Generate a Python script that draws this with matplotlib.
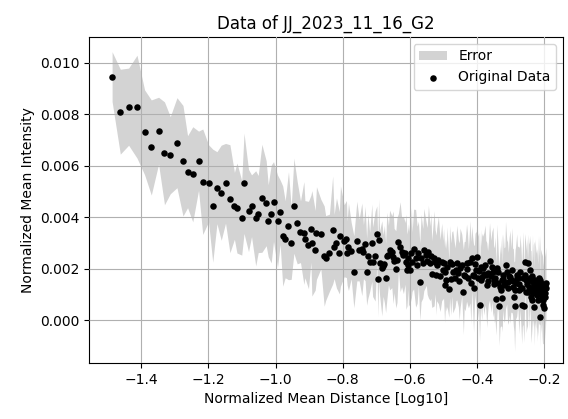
import matplotlib
matplotlib.use("Agg")
import matplotlib.pyplot as plt
import numpy as np

# log10 of normalized mean distance
distance_log10 = [
    -1.487, -1.4625, -1.4378, -1.4128, -1.3902, -1.3702, -1.3485, -1.3309, -1.3136, -1.2937,
    -1.2758, -1.2621, -1.2466, -1.2294, -1.2169, -1.1996, -1.1871, -1.1746, -1.1618, -1.1490,
    -1.1359, -1.1225, -1.1150, -1.1007, -1.0939, -1.0805, -1.0715, -1.0590, -1.0516, -1.0406,
    -1.0278, -1.0218, -1.0129, -1.0060, -0.9941, -0.9861, -0.9786, -0.9712, -0.9614, -0.9533,
    -0.9453, -0.9354, -0.9256, -0.9155, -0.9125, -0.9018, -0.8946, -0.8917, -0.8818, -0.8780,
    -0.8649, -0.8550, -0.8506, -0.8393, -0.8297, -0.8253, -0.8184, -0.8098, -0.8065, -0.7955,
    -0.7886, -0.7866, -0.7827, -0.7746, -0.7666, -0.7577, -0.7508, -0.7428, -0.7380, -0.7330,
    -0.7285, -0.7249, -0.7195, -0.7130, -0.7106, -0.7032, -0.6981, -0.6952, -0.6928, -0.6898,
    -0.6832, -0.6794, -0.6755, -0.6719, -0.6683, -0.6636, -0.6600, -0.6534, -0.6496, -0.6466,
    -0.6415, -0.6380, -0.6338, -0.6287, -0.6243, -0.6189, -0.6138, -0.6114, -0.6081, -0.6040,
    -0.5990, -0.5951, -0.5930, -0.5885, -0.5825, -0.5742, -0.5700, -0.5662, -0.5611, -0.5581,
    -0.5504, -0.5444, -0.5394, -0.5370, -0.5343, -0.5274, -0.5245, -0.5206, -0.5147, -0.5096,
    -0.5046, -0.5016, -0.4992, -0.4962, -0.4912, -0.4888, -0.4834, -0.4813, -0.4748, -0.4718,
    -0.4650, -0.4599, -0.4552, -0.4501, -0.4450, -0.4402, -0.4351, -0.4307, -0.4253, -0.4203,
    -0.4152, -0.4122, -0.4098, -0.4054, -0.4018, -0.3994, -0.3970, -0.3920, -0.3890, -0.3854,
    -0.3830, -0.3756, -0.3732, -0.3705, -0.3657, -0.3622, -0.3556, -0.3518, -0.3500, -0.3458,
    -0.3432, -0.3399, -0.3360, -0.3334, -0.3294, -0.3259, -0.3241, -0.3211, -0.3190, -0.3146,
    -0.3110, -0.3086, -0.3062, -0.3012, -0.2988, -0.2952, -0.2913, -0.2893, -0.2875, -0.2848,
    -0.2812, -0.2774, -0.2750, -0.2714, -0.2684, -0.2663, -0.2624, -0.2595, -0.2565, -0.2544,
    -0.2514, -0.2490, -0.2467, -0.2446, -0.2416, -0.2386, -0.2366, -0.2342, -0.2318, -0.2297,
    -0.2288, -0.2247, -0.2217, -0.2187, -0.2163, -0.2142, -0.2118, -0.2109, -0.2088, -0.2067,
    -0.2043, -0.2020, -0.1999, -0.1981, -0.1963, -0.1949,
    -0.6050, -0.5780, -0.5480, -0.5200, -0.4935, -0.4775, -0.4625, -0.4525, -0.4378, -0.4280,
    -0.4180, -0.4075, -0.3945, -0.3870, -0.3790, -0.3680, -0.3580, -0.3478, -0.3380, -0.3310,
    -0.3230, -0.3165, -0.3040, -0.2935, -0.2860, -0.2790, -0.2730, -0.2645, -0.2580, -0.2530,
    -0.2478, -0.2430, -0.2400, -0.2330, -0.2270, -0.2232, -0.2200, -0.2150, -0.2100, -0.2055,
    -0.2010, -0.1972, -0.1940,
]

# normalized mean intensity at each distance
intensity = [
    0.009467, 0.008105, 0.008300, 0.008300, 0.007303, 0.006712, 0.007366, 0.006486, 0.006412, 0.006899,
    0.006198, 0.005770, 0.005669, 0.006198, 0.005381, 0.005319, 0.004447, 0.005148, 0.004953, 0.005319,
    0.004720, 0.004443, 0.004358, 0.003977, 0.005319, 0.004261, 0.004447, 0.003957, 0.004124, 0.004735,
    0.004541, 0.003864, 0.004124, 0.004611, 0.003844, 0.004194, 0.003268, 0.003144, 0.003669, 0.002984,
    0.004447, 0.003786, 0.003436, 0.003385, 0.003144, 0.002918, 0.003552, 0.002984, 0.002712, 0.003385,
    0.003346, 0.002490, 0.002412, 0.002619, 0.003502, 0.002860, 0.002996, 0.002619, 0.003268, 0.003086,
    0.003152, 0.002607, 0.002852, 0.002704, 0.001879, 0.003074, 0.002724, 0.002751, 0.002658, 0.002977,
    0.001879, 0.002490, 0.002257, 0.003008, 0.002268, 0.002490, 0.003338, 0.001584, 0.003113, 0.002206,
    0.002012, 0.002121, 0.002179, 0.001642, 0.002490, 0.002529, 0.002724, 0.002658, 0.002440, 0.002315,
    0.001973, 0.002335, 0.003047, 0.002852, 0.002646, 0.002529, 0.002595, 0.002268, 0.001946, 0.002140,
    0.001946, 0.002626, 0.002268, 0.002763, 0.002401, 0.002595, 0.001490, 0.002412, 0.002206, 0.002743,
    0.002549, 0.002665, 0.002206, 0.002490, 0.001790, 0.002401, 0.002268, 0.001751, 0.002335, 0.001731,
    0.002268, 0.001946, 0.002206, 0.001362, 0.001556, 0.002074, 0.001206, 0.002268, 0.002179, 0.001879,
    0.001654, 0.002237, 0.001817, 0.002023, 0.002140, 0.001089, 0.001712, 0.002230, 0.001623, 0.002268,
    0.002401, 0.001751, 0.001233, 0.002179, 0.001946, 0.002463, 0.001654, 0.000584, 0.002074, 0.001685,
    0.002012, 0.002140, 0.001751, 0.001362, 0.001817, 0.002284, 0.002074, 0.001868, 0.001556, 0.001623,
    0.000817, 0.002023, 0.001428, 0.000564, 0.001167, 0.001556, 0.000844, 0.001751, 0.001362, 0.002140,
    0.001879, 0.001490, 0.001233, 0.001685, 0.001556, 0.001946, 0.001272, 0.000907, 0.000545, 0.001428,
    0.001751, 0.001623, 0.001167, 0.001868, 0.001233, 0.000584, 0.001634, 0.000545, 0.002268, 0.001556,
    0.001420, 0.001089, 0.002230, 0.001296, 0.001946, 0.000907, 0.000778, 0.001712, 0.001490, 0.001362,
    0.000517, 0.001233, 0.000973, 0.000778, 0.001634, 0.001167, 0.001556, 0.000128, 0.001101, 0.001233,
    0.000778, 0.000584, 0.000455, 0.001362, 0.000907, 0.001428,
    0.002400, 0.002150, 0.002300, 0.002150, 0.001850, 0.001600, 0.001950, 0.001500, 0.001750, 0.002000,
    0.001450, 0.001700, 0.001900, 0.001550, 0.001800, 0.001500, 0.001700, 0.001400, 0.001850, 0.001300,
    0.001600, 0.001450, 0.001700, 0.001500, 0.001150, 0.001650, 0.001400, 0.001250, 0.001750, 0.001100,
    0.001500, 0.001650, 0.001200, 0.001050, 0.001550, 0.001400, 0.001150, 0.001300, 0.001450, 0.000950,
    0.001200, 0.001050, 0.001250,
]

# half-width of the error band at each point
error = [
    0.00097, 0.00165, 0.00150, 0.00200, 0.00165, 0.00185, 0.00130, 0.00200, 0.00150, 0.00175, 0.00215, 0.00140,
    0.00185, 0.00115, 0.00205, 0.00150, 0.00220, 0.00140, 0.00185, 0.00155, 0.00210, 0.00130, 0.00175, 0.00145,
    0.00195, 0.00160, 0.00120, 0.00185, 0.00150, 0.00210, 0.00165, 0.00140, 0.00190, 0.00155, 0.00180, 0.00125,
    0.00195, 0.00150, 0.00210, 0.00140, 0.00185, 0.00160, 0.00120, 0.00200, 0.00150, 0.00170, 0.00130, 0.00205,
    0.00155, 0.00180, 0.00135, 0.00195, 0.00165, 0.00150, 0.00210, 0.00125, 0.00175, 0.00160, 0.00195, 0.00140,
    0.00150, 0.00125, 0.00170, 0.00110, 0.00140, 0.00155, 0.00120, 0.00180, 0.00105, 0.00145, 0.00130, 0.00165,
    0.00115, 0.00150, 0.00135, 0.00175, 0.00110, 0.00145, 0.00160, 0.00125, 0.00185, 0.00120, 0.00150, 0.00135,
    0.00170, 0.00115, 0.00155, 0.00140, 0.00180, 0.00125, 0.00150, 0.00165, 0.00110, 0.00175, 0.00135, 0.00150,
    0.00120, 0.00185, 0.00140, 0.00160, 0.00130, 0.00175, 0.00115, 0.00155, 0.00190, 0.00125, 0.00150, 0.00170,
    0.00135, 0.00160, 0.00120, 0.00180, 0.00145, 0.00165, 0.00130, 0.00185, 0.00125, 0.00155, 0.00170, 0.00140,
    0.00150, 0.00115, 0.00135, 0.00145, 0.00120, 0.00155, 0.00110, 0.00140, 0.00125, 0.00160, 0.00115, 0.00145,
    0.00130, 0.00155, 0.00120, 0.00165, 0.00135, 0.00150, 0.00115, 0.00160, 0.00125, 0.00145, 0.00170, 0.00120,
    0.00150, 0.00135, 0.00160, 0.00140, 0.00145, 0.00170, 0.00125, 0.00155, 0.00135, 0.00165, 0.00120, 0.00150,
    0.00135, 0.00175, 0.00125, 0.00160, 0.00140, 0.00170, 0.00115, 0.00155, 0.00140, 0.00180, 0.00130, 0.00160,
    0.00145, 0.00170, 0.00125, 0.00155, 0.00140, 0.00180, 0.00125, 0.00165, 0.00150, 0.00135, 0.00175, 0.00140,
    0.00160, 0.00125, 0.00170, 0.00145, 0.00155, 0.00150, 0.00180, 0.00140, 0.00110, 0.00140, 0.00175, 0.00130,
    0.00110, 0.00165, 0.00135, 0.00180, 0.00125, 0.00160, 0.00145, 0.00170, 0.00150, 0.00155, 0.00180, 0.00140,
    0.00165, 0.00130, 0.00175, 0.00120, 0.00160, 0.00135, 0.00170, 0.00150, 0.00150, 0.00130, 0.00165, 0.00140,
    0.00120, 0.00150, 0.00130, 0.00140, 0.00130, 0.00140, 0.00120, 0.00150, 0.00130, 0.00140,
    0.00160, 0.00120, 0.00150, 0.00130, 0.00160, 0.00120, 0.00140, 0.00150, 0.00130, 0.00160,
    0.00120, 0.00140, 0.00150, 0.00130, 0.00160, 0.00120, 0.00140, 0.00150, 0.00130, 0.00160,
    0.00120, 0.00140, 0.00150, 0.00130, 0.00160, 0.00120, 0.00140, 0.00150, 0.00130, 0.00160,
    0.00120, 0.00140, 0.00130,
]

title = "Data of JJ_2023_11_16_G2"
x_label = "Normalized Mean Distance [Log10]"
y_label = "Normalized Mean Intensity"
x_ticks = [-1.4, -1.2, -1.0, -0.8, -0.6, -0.4, -0.2]
y_ticks = [0.000, 0.002, 0.004, 0.006, 0.008, 0.010]

# order everything by distance so the band is drawn left to right
order = np.argsort(distance_log10, kind="stable")
x = np.array(distance_log10)[order]
y = np.array(intensity)[order]
e = np.array(error)[order]

fig = plt.figure(figsize=(5.68, 4.19), dpi=100)
ax = fig.add_axes([0.1572, 0.1337, 0.9912 - 0.1572, 0.9117 - 0.1337])

ax.fill_between(x, y - e, y + e, color="lightgray", linewidth=0, label="Error", zorder=1)
ax.scatter(x, y, s=22, color="black", linewidths=0, label="Original Data", zorder=3)

ax.set_xlim(-1.555, -0.1433)
ax.set_ylim(-0.00167, 0.01101)
ax.set_xticks(x_ticks)
ax.set_yticks(y_ticks)
ax.yaxis.set_major_formatter(matplotlib.ticker.FormatStrFormatter("%.3f"))
ax.grid(True, color="#b0b0b0", linewidth=0.8, zorder=2)
ax.set_axisbelow(False)

ax.set_title(title, fontsize=12)
ax.set_xlabel(x_label, fontsize=10)
ax.set_ylabel(y_label, fontsize=10)
ax.tick_params(labelsize=10)
ax.legend(loc="upper right", fontsize=10)

fig.savefig("out.png", dpi=100)
